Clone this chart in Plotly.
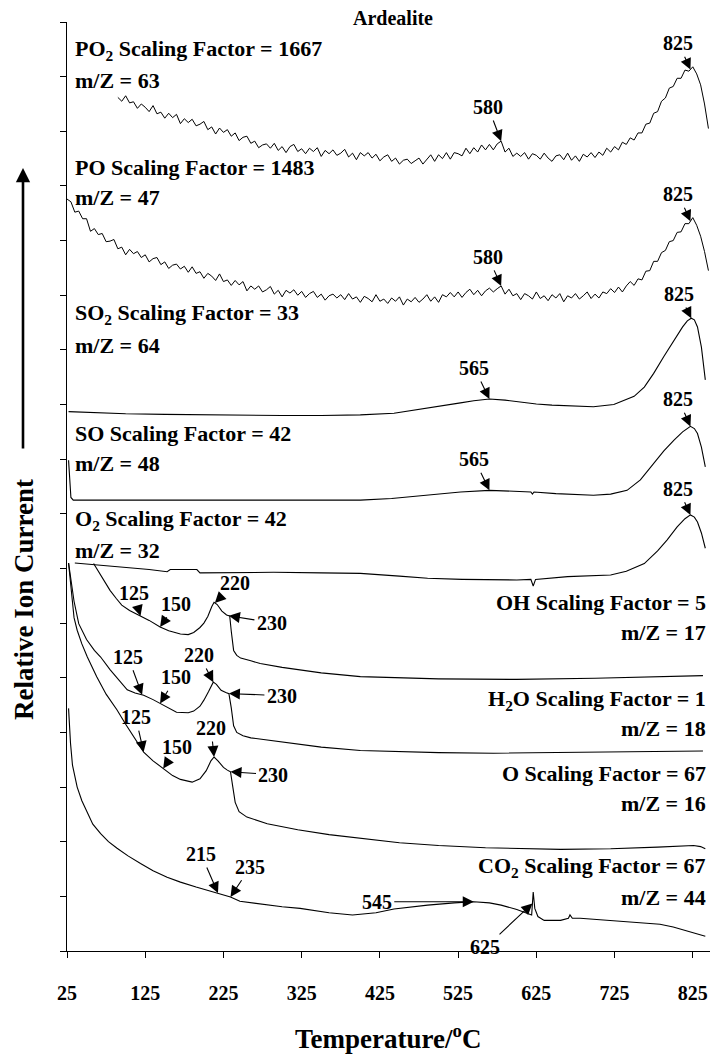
import numpy as np
import plotly.graph_objects as go

# ---------------- data (temperature in °C, relative ion current in arbitrary stacked units) ----------------
po2_T = list(range(90, 846, 5))
po2_D = [15.62, 15.55, 15.65, 15.52, 15.54, 15.42, 15.50, 15.44, 15.36, 15.47, 15.32, 15.35, 15.24,
         15.33, 15.25, 15.31, 15.14, 15.23, 15.16, 15.22, 15.10, 15.13, 15.18, 15.03, 15.08, 14.95, 15.06,
         14.98, 15.03, 14.91, 14.97, 14.83, 14.89, 14.91, 14.78, 14.82, 14.70, 14.75, 14.77,
         14.69, 14.78, 14.65, 14.72, 14.61, 14.72, 14.76, 14.63, 14.68, 14.59, 14.69, 14.63,
         14.70, 14.54, 14.65, 14.59, 14.66, 14.56, 14.60, 14.67, 14.53, 14.60, 14.48, 14.61,
         14.55, 14.61, 14.51, 14.58, 14.46, 14.53, 14.57, 14.45, 14.51, 14.40, 14.47, 14.49, 14.41, 14.46,
         14.51, 14.40, 14.49, 14.57, 14.45, 14.57, 14.50, 14.61, 14.49, 14.61, 14.59, 14.55, 14.69, 14.59,
         14.70, 14.62, 14.75, 14.66, 14.76, 14.66, 14.77, 14.82,
         14.62, 14.69, 14.54, 14.60, 14.54, 14.61, 14.49, 14.59, 14.56, 14.49, 14.60, 14.51,
         14.45, 14.55, 14.57, 14.48, 14.60, 14.47, 14.55, 14.45, 14.58, 14.53, 14.61, 14.52,
         14.62, 14.56, 14.69, 14.62, 14.72, 14.66, 14.80, 14.76, 14.88, 14.84, 14.97, 14.97,
         15.13, 15.15, 15.33, 15.36, 15.55, 15.61, 15.79, 15.82, 15.97, 15.97, 16.12, 16.10,
         16.18, 16.05, 15.85, 15.50, 15.05]

po_T = list(range(25, 846, 5))
po_D = [13.76, 13.71, 13.52, 13.54, 13.40, 13.40, 13.17, 13.22, 13.11, 13.13, 12.98, 12.99, 13.02,
        12.85, 12.88, 12.74, 12.84, 12.76, 12.80, 12.69, 12.74, 12.61, 12.67, 12.69, 12.56, 12.61,
        12.49, 12.55, 12.57, 12.48, 12.53, 12.42, 12.52, 12.40, 12.43, 12.31, 12.40, 12.35, 12.27,
        12.39, 12.25, 12.28, 12.18, 12.27, 12.19, 12.25, 12.08, 12.17, 12.11, 12.17, 12.06, 12.10,
        12.16, 12.02, 12.09, 11.97, 12.09, 12.04, 12.10, 12.00, 12.07, 11.96, 12.03, 12.07, 11.96,
        12.02, 11.91, 11.99, 12.02, 11.95, 12.01, 11.92, 12.03, 11.93, 11.97, 11.87,
        11.98, 11.94, 11.88, 12.01, 11.89, 11.93, 11.85, 11.95, 11.89, 11.97, 11.82, 11.93, 11.88, 11.96,
        11.87, 11.93, 12.01, 11.89, 11.97, 11.87, 12.01, 11.97, 12.05, 11.97, 12.06, 11.96, 12.05, 12.11,
        12.01, 12.09, 11.99, 12.08, 12.13, 12.06, 12.12, 12.17,
        12.02, 12.11, 11.99, 12.03, 11.92, 12.03, 11.99, 11.93, 12.06, 11.94, 11.99, 11.90,
        12.01, 11.95, 12.03, 11.88, 11.99, 11.95, 12.03, 11.93, 11.99, 12.06, 11.94, 12.02,
        11.95, 12.06, 12.03, 12.12, 12.05, 12.15, 12.06, 12.17, 12.25, 12.18, 12.30, 12.28,
        12.44, 12.45, 12.62, 12.62, 12.78, 12.82, 12.98, 13.00, 13.15, 13.16, 13.31, 13.31,
        13.42, 13.28, 13.08, 12.80, 12.45]

so2_T = [27, 60, 100, 150, 200, 250, 300, 350, 400, 443, 486, 528, 545, 565, 585, 605, 625, 645, 665,
         698, 724, 741, 750, 763, 775, 788, 801, 812, 818, 823, 827, 831, 836, 841]
so2_D = [9.87, 9.85, 9.83, 9.82, 9.81, 9.80, 9.80, 9.80, 9.81, 9.84, 9.93, 10.03, 10.07, 10.10, 10.08,
         10.04, 10.01, 9.99, 9.98, 9.96, 10.00, 10.09, 10.15, 10.32, 10.57, 10.88, 11.18, 11.42, 11.53,
         11.58, 11.55, 11.42, 11.05, 10.45]

so_T = [27, 28.5, 30, 33, 60, 100, 200, 300, 400, 440, 480, 528, 565, 590, 618, 620, 622, 650, 680,
        698, 720, 741, 758, 775, 788, 801, 812, 822, 827, 831, 836, 841]
so_D = [8.98, 8.50, 8.30, 8.25, 8.25, 8.25, 8.25, 8.25, 8.25, 8.28, 8.33, 8.40, 8.43, 8.42, 8.40, 8.36,
        8.40, 8.37, 8.35, 8.34, 8.36, 8.43, 8.62, 8.92, 9.15, 9.35, 9.50, 9.60, 9.56, 9.47, 9.22, 8.86]

o2_T = [35, 60, 100, 130, 153, 157, 175, 191, 195, 250, 289, 350, 400, 450, 486, 530, 570, 600, 618,
        621, 624, 665, 720, 740, 763, 780, 792, 805, 815, 822, 827, 831, 836, 841]
o2_D = [7.10, 7.07, 7.02, 6.98, 6.94, 6.98, 6.98, 6.98, 6.92, 6.93, 6.93, 6.92, 6.91, 6.86, 6.82, 6.80,
        6.79, 6.79, 6.80, 6.68, 6.80, 6.85, 6.88, 6.95, 7.09, 7.32, 7.52, 7.76, 7.91, 7.98, 7.94, 7.85,
        7.65, 7.37]

oh_T = [59, 65, 72, 80, 88, 95, 105, 119, 130, 144, 155, 170, 180, 187, 195, 200, 205, 210, 213, 217,
        223, 229, 233, 235, 238, 242, 247, 260, 272, 300, 350, 400, 500, 600, 700, 838]
oh_D = [7.09, 6.95, 6.78, 6.60, 6.45, 6.33, 6.23, 6.13, 6.05, 5.93, 5.86, 5.80, 5.79, 5.83, 5.92, 6.00,
        6.12, 6.30, 6.38, 6.34, 6.22, 6.15, 6.13, 5.85, 5.50, 5.41, 5.36, 5.31, 5.26, 5.19, 5.09, 5.02,
        4.98, 4.97, 4.99, 5.04]

h2o_T = [27, 30, 34, 40, 50, 60, 68, 80, 90, 102, 112, 123, 135, 144, 155, 165, 180, 187, 195, 200,
         206, 212, 216, 222, 228, 232, 235, 238, 242, 250, 260, 280, 314, 350, 400, 500, 570, 650, 750, 838]
h2o_D = [7.10, 6.80, 6.40, 5.99, 5.70, 5.50, 5.38, 5.15, 4.98, 4.78, 4.72, 4.68, 4.60, 4.53, 4.44, 4.37,
         4.36, 4.39, 4.48, 4.59, 4.75, 4.92, 4.88, 4.77, 4.73, 4.71, 4.45, 4.12, 4.00, 3.94, 3.90, 3.86,
         3.80, 3.73, 3.67, 3.63, 3.62, 3.63, 3.65, 3.66]

o_T = [27, 29, 31, 34, 38, 44, 51, 57, 63, 75, 89, 100, 110, 123, 135, 148, 160, 170, 185, 195, 203,
       209, 213, 218, 225, 230, 234, 237, 240, 245, 255, 281, 320, 360, 400, 450, 500, 560, 656, 720,
       780, 826, 835, 841]
o_D = [7.10, 6.80, 6.42, 6.10, 5.87, 5.62, 5.38, 5.20, 5.02, 4.70, 4.41, 4.15, 3.92, 3.64, 3.48, 3.34,
       3.21, 3.14, 3.09, 3.15, 3.30, 3.48, 3.55, 3.48, 3.36, 3.31, 3.28, 3.00, 2.72, 2.55, 2.45, 2.33,
       2.22, 2.13, 2.06, 1.98, 1.93, 1.89, 1.86, 1.87, 1.90, 1.93, 1.91, 1.87]

co2_T = [27, 28, 29.5, 32, 38, 44, 51, 58, 68, 78, 89, 103, 119, 135, 153, 170, 190, 204, 218, 234,
         246, 270, 300, 323, 360, 390, 420, 443, 486, 520, 545, 565, 580, 600, 619, 621, 623, 627, 635,
         656, 666, 668, 671, 681, 741, 783, 800, 826, 841]
co2_D = [4.44, 4.10, 3.80, 3.40, 3.00, 2.75, 2.52, 2.32, 2.15, 2.00, 1.88, 1.74, 1.60, 1.47, 1.35, 1.26,
         1.17, 1.11, 1.06, 0.99, 0.91, 0.86, 0.81, 0.78, 0.70, 0.66, 0.70, 0.77, 0.84, 0.88, 0.90, 0.88,
         0.84, 0.76, 0.66, 1.08, 0.78, 0.63, 0.56, 0.56, 0.60, 0.66, 0.60, 0.60, 0.53, 0.49, 0.44, 0.34,
         0.27]

series = {
    "PO2": (po2_T, po2_D), "PO": (po_T, po_D), "SO2": (so2_T, so2_D), "SO": (so_T, so_D),
    "O2": (o2_T, o2_D), "OH": (oh_T, oh_D), "H2O": (h2o_T, h2o_D), "O": (o_T, o_D), "CO2": (co2_T, co2_D),
}

# peak labels: (series, label text, temperature the arrow points at)
peak_series = ["PO2", "PO2", "PO", "PO", "SO2", "SO2", "SO", "SO", "O2",
               "OH", "OH", "OH", "OH", "H2O", "H2O", "H2O", "H2O", "O", "O", "O", "O",
               "CO2", "CO2", "CO2", "CO2"]
peak_text = ["825", "580", "825", "580", "825", "565", "825", "565", "825",
             "125", "150", "220", "230", "125", "150", "220", "230", "125", "150", "220", "230",
             "215", "235", "545", "625"]
peak_temp = [822, 580, 822, 580, 823, 565, 822, 565, 822,
             119, 144, 214, 232, 121, 144, 212, 232, 123, 148, 213, 234,
             218, 234, 545, 620]
# label offset from arrow tip (pixels)
peak_dx = [-12, -13, -12, -13, -12, -15, -12, -15, -12,
           -7, 16, 20, 43, -14, 16, -14, 53, -8, 14, -3, 43,
           -17, 20, -97, -47]
peak_dy = [-26, -34, -27, -29, -24, -31, -27, -31, -26,
           -23, -23, -20, 7, -38, -26, -27, 2, -35, -21, -29, 3,
           -39, -30, 0, 44]

left_labels = ["PO<sub>2</sub> Scaling Factor = 1667", "m/Z = 63",
               "PO Scaling Factor = 1483", "m/Z = 47",
               "SO<sub>2</sub> Scaling Factor = 33", "m/Z = 64",
               "SO Scaling Factor = 42", "m/Z = 48",
               "O<sub>2</sub> Scaling Factor = 42", "m/Z = 32"]
left_label_py = [50, 80, 168, 197, 314, 345, 433, 463, 520, 550]
right_labels = ["OH Scaling Factor = 5", "m/Z = 17",
                "H<sub>2</sub>O Scaling Factor = 1", "m/Z = 18",
                "O Scaling Factor = 67", "m/Z = 16",
                "CO<sub>2</sub> Scaling Factor = 67", "m/Z = 44"]
right_label_py = [602, 632, 700, 728, 773, 803, 867, 897]

x_ticks = [25, 125, 225, 325, 425, 525, 625, 725, 825]

# ---------------- figure ----------------
W, H = 712, 1057
ML, MR, MT, MB = 67, 2, 22, 106
PW, PH = W - ML - MR, H - MT - MB
FAM = "Liberation Serif, Times New Roman, serif"


def px_x(px):
    return (px - ML) / PW


def px_y(py):
    return (H - MB - py) / PH


fig = go.Figure()
for name, (T, D) in series.items():
    noisy = name in ("PO2", "PO")
    fig.add_trace(go.Scatter(x=T, y=D, mode="lines", name=name,
                             line=dict(color="black", width=1.0 if noisy else 1.1),
                             hoverinfo="skip", showlegend=False))

ann = []
for s, txt, t, dx, dy in zip(peak_series, peak_text, peak_temp, peak_dx, peak_dy):
    T, D = series[s]
    ann.append(dict(x=t, y=float(np.interp(t, T, D)), xref="x", yref="y",
                    text=txt, showarrow=True, ax=dx, ay=dy, arrowhead=2, arrowsize=2.0,
                    arrowwidth=1.1, arrowcolor="black", standoff=0, startstandoff=1,
                    font=dict(family=FAM, size=20, color="black", weight="bold")))

for txt, py in zip(left_labels, left_label_py):
    ann.append(dict(x=px_x(73), y=px_y(py), xref="paper", yref="paper", text=txt,
                    showarrow=False, xanchor="left", yanchor="middle",
                    font=dict(family=FAM, size=22, color="black", weight="bold")))
for txt, py in zip(right_labels, right_label_py):
    ann.append(dict(x=px_x(708), y=px_y(py), xref="paper", yref="paper", text=txt,
                    showarrow=False, xanchor="right", yanchor="middle",
                    font=dict(family=FAM, size=22, color="black", weight="bold")))

# title
ann.append(dict(x=px_x(393), y=px_y(18), xref="paper", yref="paper", text="Ardealite",
                showarrow=False, xanchor="center", yanchor="middle",
                font=dict(family=FAM, size=20, color="black", weight="bold")))
# axis titles
ann.append(dict(x=px_x(388), y=px_y(1037), xref="paper", yref="paper", text="Temperature/<sup>o</sup>C",
                showarrow=False, xanchor="center", yanchor="middle",
                font=dict(family=FAM, size=27, color="black", weight="bold")))
ann.append(dict(x=px_x(24), y=px_y(600), xref="paper", yref="paper", text="Relative Ion Current",
                showarrow=False, xanchor="center", yanchor="middle", textangle=-90,
                font=dict(family=FAM, size=27, color="black", weight="bold")))
# upward arrow next to the y title
ann.append(dict(x=px_x(23), y=px_y(168), xref="paper", yref="paper", text="",
                showarrow=True, ax=0, ay=282, arrowhead=2, arrowsize=1.1, arrowwidth=2.6,
                arrowcolor="black", standoff=0))

fig.update_layout(
    width=W, height=H,
    margin=dict(l=ML, r=MR, t=MT, b=MB, pad=0),
    paper_bgcolor="white", plot_bgcolor="white",
    font=dict(family=FAM, color="black", weight="bold"),
    annotations=ann,
    showlegend=False,
    xaxis=dict(range=[25, 847], tickmode="array", tickvals=x_ticks,
               ticktext=[str(v) for v in x_ticks], ticks="outside", ticklen=6, tickwidth=1,
               tickcolor="black", showline=True, linecolor="black", linewidth=1,
               showgrid=False, zeroline=False, ticklabelstandoff=18,
               tickfont=dict(family=FAM, size=20, color="black", weight="bold")),
    yaxis=dict(range=[0, 17], dtick=1, tick0=0, ticks="outside", ticklen=6, tickwidth=1,
               tickcolor="black", showline=True, linecolor="black", linewidth=1,
               showgrid=False, zeroline=False, showticklabels=False),
)

fig.write_html("out.html", config={"displayModeBar": False})
